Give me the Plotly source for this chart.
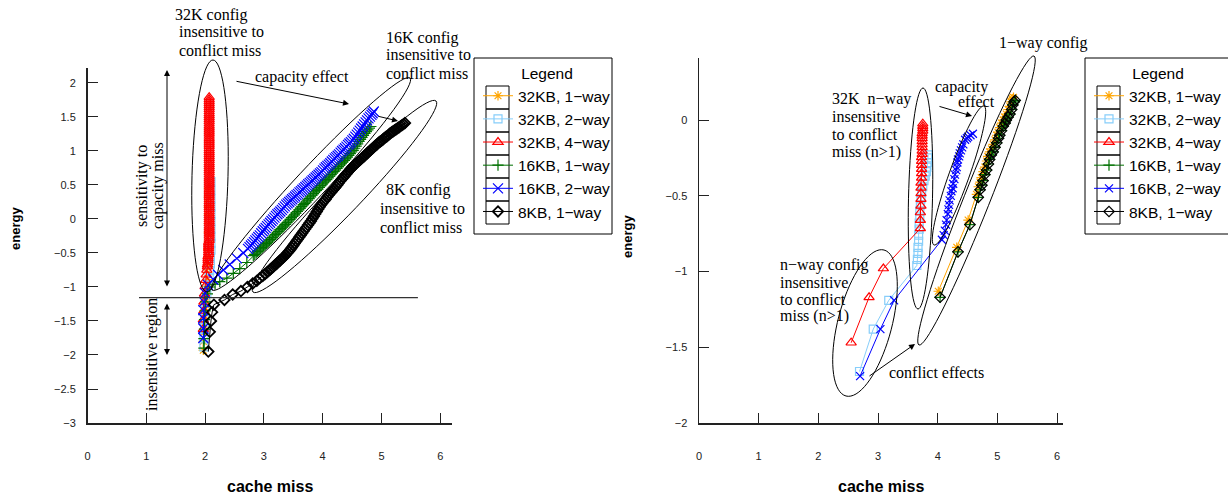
import math
import plotly.graph_objects as go

W, H = 1228, 496

names = ["32KB, 1\u2212way", "32KB, 2\u2212way", "32KB, 4\u2212way",
         "16KB, 1\u2212way", "16KB, 2\u2212way", "8KB, 1\u2212way"]
x_ticks = [0, 1, 2, 3, 4, 5, 6]

# ---------------- data: left panel (cache miss, energy) ----------------
L_32K1 = [(1.97, -1.93), (1.97, -1.80), (1.98, -1.67), (1.98, -1.54), (1.99, -1.42), (2.00, -1.30),
          (2.01, -1.19), (2.02, -1.09), (2.03, -0.99), (2.04, -0.89), (2.04, -0.79), (2.05, -0.68),
          (2.05, -0.57), (2.05, -0.45), (2.06, -0.33), (2.06, -0.20), (2.06, -0.07), (2.06, 0.06),
          (2.06, 0.19), (2.06, 0.32), (2.06, 0.45)]

L_32K2 = [(1.98, -1.88), (1.98, -1.74), (1.99, -1.60), (1.99, -1.47), (2.00, -1.34), (2.01, -1.21),
          (2.03, -1.09), (2.05, -0.97), (2.07, -0.86), (2.08, -0.76), (2.09, -0.66), (2.09, -0.56),
          (2.10, -0.46), (2.10, -0.36), (2.10, -0.26), (2.10, -0.15), (2.10, -0.04), (2.10, 0.07),
          (2.10, 0.18), (2.10, 0.30), (2.10, 0.42), (2.10, 0.55)]

L_32K4 = [(1.97, -1.62), (1.97, -1.48), (1.98, -1.35), (1.98, -1.22), (1.99, -1.10), (2.00, -0.99),
          (2.01, -0.90), (2.02, -0.82), (2.03, -0.75),
          (2.04, -0.70), (2.04, -0.67), (2.05, -0.64), (2.05, -0.61), (2.05, -0.58), (2.05, -0.55),
          (2.06, -0.52), (2.06, -0.49), (2.06, -0.46), (2.06, -0.43), (2.06, -0.40), (2.06, -0.37),
          (2.06, -0.34), (2.07, -0.31), (2.07, -0.28), (2.07, -0.25), (2.07, -0.22), (2.07, -0.19),
          (2.07, -0.16), (2.07, -0.13), (2.07, -0.10), (2.07, -0.07), (2.07, -0.04), (2.07, -0.01),
          (2.07, 0.02), (2.07, 0.05), (2.07, 0.08), (2.07, 0.11), (2.07, 0.14), (2.07, 0.17),
          (2.07, 0.20), (2.07, 0.23), (2.07, 0.26), (2.07, 0.29), (2.07, 0.32), (2.07, 0.35),
          (2.07, 0.38), (2.07, 0.41), (2.07, 0.44), (2.07, 0.47), (2.07, 0.50), (2.07, 0.53),
          (2.07, 0.56), (2.07, 0.59), (2.07, 0.62), (2.07, 0.65), (2.07, 0.68), (2.07, 0.71),
          (2.07, 0.74), (2.07, 0.77), (2.07, 0.80), (2.07, 0.83), (2.07, 0.86), (2.07, 0.89),
          (2.07, 0.92), (2.07, 0.95), (2.07, 0.98), (2.07, 1.01), (2.07, 1.04), (2.07, 1.07),
          (2.07, 1.10), (2.07, 1.13), (2.07, 1.16), (2.07, 1.19), (2.07, 1.22), (2.07, 1.25),
          (2.07, 1.28), (2.07, 1.31), (2.07, 1.34), (2.07, 1.37), (2.07, 1.40), (2.07, 1.43),
          (2.07, 1.46), (2.07, 1.49), (2.07, 1.52), (2.07, 1.55), (2.07, 1.58), (2.07, 1.61),
          (2.07, 1.64), (2.07, 1.67), (2.07, 1.70), (2.07, 1.73), (2.07, 1.76), (2.07, 1.79)]

L_16K1 = [(1.98, -1.90), (1.98, -1.76), (1.99, -1.62), (1.99, -1.48), (2.00, -1.35), (2.01, -1.22),
          (2.04, -1.10), (2.08, -1.00), (2.17, -0.96), (2.25, -0.92), (2.37, -0.87), (2.48, -0.80),
          (2.59, -0.73), (2.71, -0.64), (2.82, -0.54), (2.845, -0.52), (2.87, -0.50), (2.895, -0.48),
          (2.92, -0.46), (2.945, -0.44), (2.97, -0.42), (2.995, -0.40), (3.02, -0.38), (3.045, -0.36),
          (3.07, -0.34), (3.095, -0.32), (3.12, -0.30), (3.145, -0.275), (3.17, -0.25), (3.195, -0.23),
          (3.22, -0.21), (3.245, -0.185), (3.27, -0.16), (3.295, -0.14), (3.32, -0.12), (3.345, -0.10),
          (3.37, -0.08), (3.395, -0.055), (3.42, -0.03), (3.445, -0.005), (3.47, 0.02), (3.495, 0.04),
          (3.52, 0.06), (3.545, 0.085), (3.57, 0.11), (3.595, 0.135), (3.62, 0.16), (3.645, 0.185),
          (3.67, 0.21), (3.695, 0.23), (3.72, 0.25), (3.745, 0.275), (3.77, 0.30), (3.795, 0.325),
          (3.82, 0.35), (3.845, 0.375), (3.87, 0.40), (3.895, 0.42), (3.92, 0.44), (3.945, 0.465),
          (3.97, 0.49), (3.995, 0.515), (4.02, 0.54), (4.045, 0.56), (4.07, 0.58), (4.095, 0.605),
          (4.12, 0.63), (4.145, 0.655), (4.17, 0.68), (4.195, 0.70), (4.22, 0.72), (4.245, 0.745),
          (4.27, 0.77), (4.295, 0.795), (4.32, 0.82), (4.345, 0.84), (4.37, 0.86), (4.395, 0.885),
          (4.42, 0.91), (4.445, 0.935), (4.47, 0.96), (4.495, 0.985), (4.52, 1.01), (4.545, 1.04),
          (4.57, 1.07), (4.595, 1.105), (4.62, 1.14), (4.645, 1.17), (4.67, 1.20), (4.695, 1.23),
          (4.72, 1.26), (4.745, 1.285), (4.77, 1.31), (4.795, 1.335), (4.82, 1.36)]

L_16K2 = [(1.97, -1.75), (1.97, -1.61), (1.97, -1.46), (1.97, -1.34), (1.98, -1.22), (2.00, -1.09),
          (2.05, -0.97), (2.14, -0.89), (2.22, -0.82), (2.31, -0.75), (2.42, -0.67), (2.54, -0.58),
          (2.65, -0.50), (2.73, -0.44), (2.755, -0.415), (2.78, -0.39), (2.805, -0.365), (2.83, -0.34),
          (2.855, -0.315), (2.88, -0.29), (2.905, -0.265), (2.93, -0.24), (2.955, -0.21), (2.98, -0.18),
          (3.005, -0.155), (3.03, -0.13), (3.055, -0.105), (3.08, -0.08), (3.105, -0.055), (3.13, -0.03),
          (3.155, -0.005), (3.18, 0.02), (3.205, 0.045), (3.23, 0.07), (3.255, 0.09), (3.28, 0.11),
          (3.305, 0.135), (3.33, 0.16), (3.355, 0.185), (3.38, 0.21), (3.405, 0.23), (3.43, 0.25),
          (3.455, 0.27), (3.48, 0.29), (3.505, 0.31), (3.53, 0.33), (3.555, 0.35), (3.58, 0.37),
          (3.605, 0.39), (3.63, 0.41), (3.655, 0.43), (3.68, 0.45), (3.705, 0.47), (3.73, 0.49),
          (3.755, 0.51), (3.78, 0.53), (3.805, 0.55), (3.83, 0.57), (3.855, 0.59), (3.88, 0.61),
          (3.905, 0.63), (3.93, 0.65), (3.955, 0.67), (3.98, 0.69), (4.005, 0.715), (4.03, 0.74),
          (4.055, 0.76), (4.08, 0.78), (4.105, 0.80), (4.13, 0.82), (4.155, 0.845), (4.18, 0.87),
          (4.205, 0.89), (4.23, 0.91), (4.255, 0.93), (4.28, 0.95), (4.305, 0.975), (4.33, 1.00),
          (4.355, 1.02), (4.38, 1.04), (4.405, 1.065), (4.43, 1.09), (4.455, 1.11), (4.48, 1.13),
          (4.505, 1.155), (4.53, 1.18), (4.555, 1.21), (4.58, 1.24), (4.605, 1.27), (4.63, 1.30),
          (4.655, 1.33), (4.68, 1.36), (4.705, 1.39), (4.73, 1.42), (4.755, 1.45), (4.78, 1.48),
          (4.805, 1.505), (4.83, 1.53), (4.85, 1.555), (4.87, 1.58)]

L_8K1 = [(2.055, -1.95), (2.08, -1.66), (2.10, -1.50), (2.12, -1.37), (2.15, -1.26), (2.33, -1.19),
         (2.47, -1.11), (2.61, -1.06), (2.72, -1.00), (2.81, -0.95), (2.88, -0.91), (2.93, -0.87),
         (2.98, -0.84), (3.02, -0.81), (3.06, -0.78), (3.10, -0.75), (3.125, -0.73), (3.15, -0.71),
         (3.175, -0.69), (3.20, -0.67), (3.225, -0.65), (3.25, -0.63), (3.275, -0.61), (3.30, -0.59),
         (3.325, -0.57), (3.35, -0.55), (3.375, -0.525), (3.40, -0.50), (3.425, -0.475), (3.45, -0.45),
         (3.475, -0.42), (3.50, -0.39), (3.525, -0.36), (3.55, -0.33), (3.575, -0.30), (3.60, -0.27),
         (3.625, -0.24), (3.65, -0.21), (3.675, -0.18), (3.70, -0.15), (3.725, -0.12), (3.75, -0.09),
         (3.775, -0.06), (3.80, -0.03), (3.825, 0.005), (3.85, 0.04), (3.875, 0.075), (3.90, 0.11),
         (3.925, 0.145), (3.95, 0.18), (3.975, 0.21), (4.00, 0.24), (4.025, 0.265), (4.05, 0.29),
         (4.075, 0.32), (4.10, 0.35), (4.125, 0.375), (4.15, 0.40), (4.175, 0.425), (4.20, 0.45),
         (4.225, 0.475), (4.25, 0.50), (4.275, 0.53), (4.30, 0.56), (4.325, 0.585), (4.35, 0.61),
         (4.375, 0.635), (4.40, 0.66), (4.425, 0.685), (4.45, 0.71), (4.475, 0.735), (4.50, 0.76),
         (4.525, 0.78), (4.55, 0.80), (4.575, 0.82), (4.60, 0.84), (4.625, 0.86), (4.65, 0.88),
         (4.675, 0.90), (4.70, 0.92), (4.725, 0.94), (4.75, 0.96), (4.775, 0.98), (4.80, 1.00),
         (4.825, 1.02), (4.85, 1.04), (4.875, 1.06), (4.90, 1.08), (4.925, 1.10), (4.95, 1.12),
         (4.975, 1.135), (5.00, 1.15), (5.025, 1.17), (5.05, 1.19), (5.075, 1.205), (5.10, 1.22),
         (5.125, 1.24), (5.15, 1.26), (5.175, 1.275), (5.20, 1.29), (5.225, 1.305), (5.25, 1.32),
         (5.275, 1.335), (5.30, 1.35), (5.325, 1.365), (5.35, 1.38), (5.375, 1.395), (5.40, 1.41)]

# ---------------- data: right panel ----------------
R_32K1 = [(4.01, -1.13), (4.32, -0.84), (4.51, -0.66), (4.65, -0.49), (4.68, -0.44), (4.71, -0.41),
          (4.73, -0.38), (4.76, -0.34), (4.79, -0.31), (4.82, -0.27), (4.84, -0.24), (4.87, -0.21),
          (4.90, -0.19), (4.93, -0.16), (4.96, -0.13), (4.99, -0.10), (5.01, -0.08), (5.04, -0.05),
          (5.07, -0.02), (5.10, 0.00), (5.12, 0.02), (5.15, 0.04), (5.18, 0.07), (5.21, 0.09),
          (5.23, 0.12), (5.25, 0.14), (5.27, 0.15)]

R_32K2 = [(2.69, -1.66), (2.92, -1.38), (3.18, -1.19), (3.65, -0.96), (3.66, -0.92), (3.67, -0.88),
          (3.67, -0.84), (3.68, -0.80), (3.68, -0.76), (3.69, -0.72), (3.69, -0.68), (3.70, -0.64),
          (3.70, -0.60), (3.71, -0.56), (3.72, -0.52), (3.73, -0.48), (3.75, -0.44), (3.77, -0.40),
          (3.79, -0.37), (3.81, -0.34), (3.82, -0.31), (3.83, -0.28), (3.83, -0.25), (3.84, -0.23)]

R_32K4 = [(2.55, -1.47), (2.85, -1.17), (3.09, -0.98), (3.71, -0.715), (3.71, -0.660), (3.71, -0.610),
          (3.72, -0.566), (3.72, -0.522), (3.72, -0.484), (3.72, -0.447), (3.72, -0.414), (3.73, -0.381),
          (3.73, -0.352), (3.73, -0.324), (3.73, -0.297), (3.73, -0.271), (3.73, -0.246), (3.74, -0.225),
          (3.74, -0.203), (3.74, -0.180), (3.74, -0.161), (3.74, -0.141), (3.74, -0.121), (3.74, -0.104),
          (3.74, -0.088), (3.75, -0.071), (3.75, -0.055), (3.75, -0.040), (3.75, -0.024)]

R_16K1 = [(4.04, -1.17), (4.34, -0.87), (4.54, -0.69), (4.68, -0.51), (4.71, -0.46), (4.74, -0.43),
          (4.76, -0.40), (4.79, -0.36), (4.82, -0.33), (4.85, -0.29), (4.87, -0.26), (4.90, -0.23),
          (4.93, -0.21), (4.96, -0.18), (4.99, -0.15), (5.02, -0.12), (5.04, -0.10), (5.07, -0.07),
          (5.10, -0.04), (5.13, -0.02), (5.15, 0.00), (5.18, 0.02), (5.21, 0.04), (5.24, 0.07),
          (5.26, 0.10), (5.28, 0.12), (5.30, 0.13)]

R_16K2 = [(2.70, -1.69), (3.04, -1.38), (3.27, -1.19), (4.07, -0.79), (4.10, -0.76), (4.12, -0.73),
          (4.14, -0.69), (4.15, -0.66), (4.17, -0.62), (4.18, -0.59), (4.19, -0.56), (4.20, -0.53),
          (4.22, -0.50), (4.23, -0.47), (4.25, -0.45), (4.26, -0.42), (4.28, -0.39), (4.29, -0.36),
          (4.31, -0.33), (4.32, -0.31), (4.33, -0.28), (4.34, -0.26), (4.36, -0.24), (4.37, -0.22),
          (4.39, -0.20), (4.41, -0.18), (4.43, -0.16), (4.46, -0.13), (4.49, -0.12), (4.51, -0.11),
          (4.55, -0.10), (4.59, -0.09)]

R_8K1 = [(4.04, -1.17), (4.34, -0.87), (4.54, -0.69), (4.68, -0.51), (4.71, -0.46), (4.74, -0.43),
         (4.76, -0.40), (4.79, -0.36), (4.82, -0.33), (4.85, -0.29), (4.87, -0.26), (4.90, -0.23),
         (4.93, -0.21), (4.96, -0.18), (4.99, -0.15), (5.02, -0.12), (5.04, -0.10), (5.07, -0.07),
         (5.10, -0.04), (5.13, -0.02), (5.15, 0.00), (5.18, 0.02), (5.21, 0.04), (5.24, 0.07),
         (5.26, 0.10), (5.28, 0.12), (5.30, 0.13)]

# ---------------- styles (left-panel size, right-panel size, left marker outline) ----------------
styles = [
    dict(color="#FFA500", symbol="asterisk-open", size=(8, 8), lw=1.2),
    dict(color="#87CEFA", symbol="square-open", size=(8, 8), lw=1.2),
    dict(color="#FF0000", symbol="triangle-up-open", size=(9, 9), lw=1.2),
    dict(color="#007000", symbol="cross-thin-open", size=(8, 8), lw=1.2),
    dict(color="#0000FF", symbol="x-thin-open", size=(10, 8), lw=1.2),
    dict(color="#000000", symbol="diamond-open", size=(8, 8), lw=1.8),
]

left_sets = [L_32K1, L_32K2, L_32K4, L_16K1, L_16K2, L_8K1]
right_sets = [R_32K1, R_32K2, R_32K4, R_16K1, R_16K2, R_8K1]

fig = go.Figure()
for k, sets, xa, ya, lg in [(0, left_sets, "x", "y", "legend"), (1, right_sets, "x2", "y2", "legend2")]:
    for pts, nm, st in zip(sets, names, styles):
        xs = [p[0] for p in pts]
        ys = [p[1] for p in pts]
        fig.add_trace(go.Scatter(x=xs, y=ys, name=nm, mode="lines+markers",
                                 line=dict(color=st["color"], width=1),
                                 marker=dict(symbol=st["symbol"], size=st["size"][k], color=st["color"],
                                             line=dict(color=st["color"], width=st["lw"] if k == 0 else 1.2)),
                                 xaxis=xa, yaxis=ya, legend=lg))


def px(x):
    return x / W


def py(y):
    return 1 - y / H


def ellipse(p1, p2, b, n=72):
    cx, cy = (p1[0] + p2[0]) / 2, (p1[1] + p2[1]) / 2
    dx, dy = p2[0] - p1[0], p2[1] - p1[1]
    a = math.hypot(dx, dy) / 2
    ux, uy = dx / (2 * a), dy / (2 * a)
    vx, vy = -uy, ux
    pts = []
    for i in range(n):
        t = 2 * math.pi * i / n
        X = cx + a * math.cos(t) * ux + b * math.sin(t) * vx
        Y = cy + a * math.cos(t) * uy + b * math.sin(t) * vy
        pts.append(f"{px(X):.5f},{py(Y):.5f}")
    return "M" + " L".join(pts) + " Z"


shapes = []
for p1, p2, b in [((213, 60), (207, 292), 18), ((212, 290), (410, 78), 15), ((253, 292), (436, 101), 16),
                  ((923, 88), (918, 309), 12), ((934, 245), (984, 106), 10), ((919, 345), (1034, 56), 13),
                  ((846, 396), (884, 250), 27)]:
    shapes.append(dict(type="path", path=ellipse(p1, p2, b), xref="paper", yref="paper",
                       line=dict(color="black", width=1)))

# horizontal separator in left panel
shapes.append(dict(type="line", xref="x", yref="y", x0=0.876, x1=5.62, y0=-1.157, y1=-1.157,
                   line=dict(color="#333", width=1.2)))

# legend frames and symbol boxes
for bx0, bx1, lx in [(474, 612, 486), (1085, 1240, 1097)]:
    shapes.append(dict(type="rect", xref="paper", yref="paper", x0=px(bx0), x1=px(bx1),
                       y0=py(58), y1=py(234), line=dict(color="black", width=1)))
    for i in range(6):
        y0 = 86 + 23 * i
        shapes.append(dict(type="rect", xref="paper", yref="paper", x0=px(lx), x1=px(lx + 23),
                           y0=py(y0), y1=py(y0 + 23), line=dict(color="black", width=1)))

ann = []
serif = dict(family="Liberation Serif", size=16, color="black")


def text(t, x, y, anchor="left", angle=0):
    ann.append(dict(text=t, x=px(x), y=py(y), xref="paper", yref="paper", showarrow=False,
                    xanchor=anchor, yanchor="middle", font=serif, textangle=angle))


text("32K config", 173, 15)
text("insensitive to", 177, 32)
text("conflict miss", 177, 50)
text("16K config", 384, 38)
text("insensitive to", 384, 55)
text("conflict miss", 384, 73)
text("capacity effect", 253, 77)
text("8K config", 384, 190)
text("insensitive to", 378, 208)
text("conflict miss", 378, 227)
text("sensitivity to", 142, 186, "center", -90)
text("capacity miss", 158, 186, "center", -90)
text("insensitive region", 152, 355, "center", -90)

text("1\u2212way config", 997, 43)
text("capacity", 933, 87)
text("effect", 956, 101)
text("32K\u00a0 n\u2212way", 830, 99)
text("insensitive", 830, 117)
text("to conflict", 830, 134)
text("miss (n>1)", 830, 152)
text("n\u2212way config", 778, 265)
text("insensitive", 778, 282)
text("to conflict", 778, 299)
text("miss (n>1)", 778, 316)
text("conflict effects", 887, 372)


def arrow(tail, head, both=False):
    ann.append(dict(text="", x=px(head[0]), y=py(head[1]), xref="paper", yref="paper",
                    ax=tail[0] - head[0], ay=tail[1] - head[1], axref="pixel", ayref="pixel",
                    showarrow=True, arrowhead=2, arrowsize=1.2, arrowwidth=1, arrowcolor="black",
                    arrowside="end+start" if both else "end", standoff=0, startstandoff=0))


arrow((167, 288), (167, 70), both=True)
arrow((167, 302), (167, 355), both=True)
arrow((235, 81), (349, 104))
arrow((377, 116), (398, 121))
arrow((938, 106), (972, 116))
arrow((868, 377), (915, 344))

for t, x, y, ang, sz in [("cache miss", 270, 486, 0, 16), ("cache miss", 881, 486, 0, 16),
                         ("energy", 15, 229, -90, 13), ("energy", 628, 237, -90, 13)]:
    ann.append(dict(text="<b>" + t + "</b>", x=px(x), y=py(y), xref="paper", yref="paper",
                    showarrow=False, xanchor="center", yanchor="middle", textangle=ang,
                    font=dict(family="Liberation Sans", size=sz, color="black")))

axis_common = dict(showgrid=False, zeroline=False, showline=True, linecolor="#222", linewidth=1.5,
                   ticks="inside", ticklen=10, tickwidth=1, tickcolor="#222", automargin=False,
                   tickfont=dict(family="Liberation Sans", size=11, color="#222"))

leg_common = dict(xanchor="left", yanchor="top", bgcolor="rgba(0,0,0,0)", borderwidth=0,
                  font=dict(family="Liberation Sans", size=15.5, color="black"),
                  title=dict(text="Legend", side="top center",
                             font=dict(family="Liberation Sans", size=15.5, color="black")))

fig.update_layout(
    template="none",
    width=W, height=H, autosize=False, margin=dict(l=0, r=0, t=0, b=0, pad=0, autoexpand=False),
    plot_bgcolor="white", paper_bgcolor="white", showlegend=True,
    xaxis=dict(domain=[px(87.5), px(452)], range=[0, 6.2], tickvals=x_ticks, ticklabelstandoff=22,
               anchor="y", **axis_common),
    yaxis=dict(domain=[py(423), py(68)], range=[-3, 2.22], dtick=0.5, ticklabelstandoff=8,
               anchor="x", **axis_common),
    xaxis2=dict(domain=[px(699), px(1063)], range=[0, 6.1], tickvals=x_ticks, ticklabelstandoff=22,
                anchor="y2", **axis_common),
    yaxis2=dict(domain=[py(423), py(58)], range=[-2, 0.41], dtick=0.5, ticklabelstandoff=8,
                anchor="x2", **axis_common),
    legend=dict(x=px(478), y=py(59), **leg_common),
    legend2=dict(x=px(1089), y=py(59), **leg_common),
    shapes=shapes, annotations=ann,
)

fig.write_html("out.html", config={"displayModeBar": False, "staticPlot": True},
               post_script="document.body.style.margin='0';document.body.style.overflow='hidden';")
